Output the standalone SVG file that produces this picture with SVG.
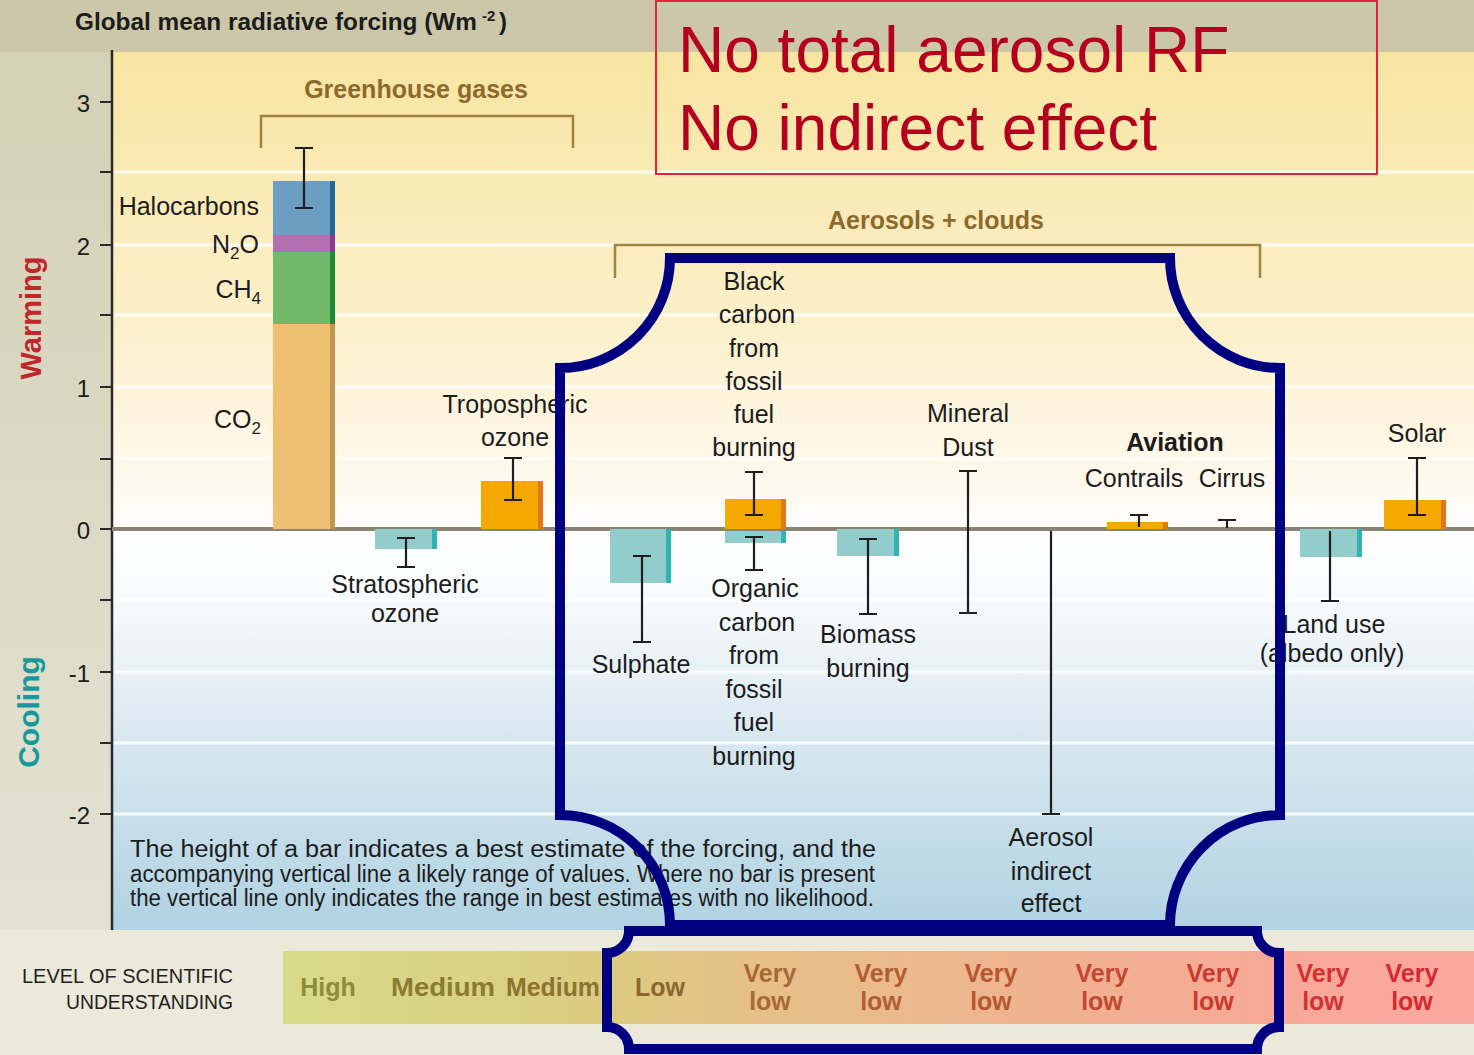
<svg xmlns="http://www.w3.org/2000/svg" width="1474" height="1055" viewBox="0 0 1474 1055">
<defs>
<linearGradient id="plotBg" x1="0" y1="52" x2="0" y2="930" gradientUnits="userSpaceOnUse">
<stop offset="0" stop-color="#f8e5a2"/>
<stop offset="0.3" stop-color="#fbefc8"/>
<stop offset="0.5" stop-color="#fffaf0"/>
<stop offset="0.545" stop-color="#ffffff"/>
<stop offset="0.62" stop-color="#f8fbfd"/>
<stop offset="0.78" stop-color="#d9e8f0"/>
<stop offset="1" stop-color="#b0d2e2"/>
</linearGradient>
<linearGradient id="leftBg" x1="0" y1="0" x2="0" y2="1">
<stop offset="0" stop-color="#d5d1b6"/>
<stop offset="1" stop-color="#e3e2d3"/>
</linearGradient>
<linearGradient id="losuBg" x1="283" y1="0" x2="1474" y2="0" gradientUnits="userSpaceOnUse">
<stop offset="0" stop-color="#d7dc8a"/>
<stop offset="0.27" stop-color="#dccb80"/>
<stop offset="0.4" stop-color="#e6c088"/>
<stop offset="0.65" stop-color="#f0b290"/>
<stop offset="0.85" stop-color="#f8a898"/>
<stop offset="1" stop-color="#fca89e"/>
</linearGradient>
<style>
.lbl{font-family:"Liberation Sans",Arial,sans-serif;font-size:25px;fill:#1c1c1c;text-anchor:middle}
.lblr{font-family:"Liberation Sans",Arial,sans-serif;font-size:25px;fill:#1c1c1c;text-anchor:end}
.tick{font-family:"Liberation Sans",Arial,sans-serif;font-size:24px;fill:#1c1c1c;text-anchor:end}
.eb{stroke:#1e1e1e;stroke-width:2.2;fill:none}
.grid{stroke:#ffffff;stroke-width:3;opacity:0.85}
.bracket{stroke:#a3823e;stroke-width:2.5;fill:none}
.grp{font-family:"Liberation Sans",Arial,sans-serif;font-size:25px;font-weight:bold;fill:#8d6a2c;text-anchor:middle}
.losu{font-family:"Liberation Sans",Arial,sans-serif;font-size:25px;font-weight:bold;text-anchor:middle}
.expl{font-family:"Liberation Sans",Arial,sans-serif;font-size:23px;fill:#1c1c1c}
.frame{fill:none;stroke:#000080;stroke-width:10}
.red{font-family:"Liberation Sans",Arial,sans-serif;font-size:64px;fill:#b4001e}
.warm{fill:#f5a800}.warmE{fill:#e07818}
.cool{fill:#92cdcc}.coolE{fill:#2fb3b3}
</style>
</defs>

<!-- background -->
<rect x="0" y="0" width="1474" height="1055" fill="#ebe9da"/>
<rect x="0" y="0" width="1474" height="52" fill="#ccc7a9"/>
<rect x="0" y="52" width="112" height="878" fill="url(#leftBg)"/>
<rect x="112" y="52" width="1362" height="878" fill="url(#plotBg)"/>

<!-- gridlines -->
<g id="gridlines">
<line class="grid" x1="114" y1="172" x2="1474" y2="172"/>
<line class="grid" x1="114" y1="245" x2="1474" y2="245"/>
<line class="grid" x1="114" y1="315" x2="1474" y2="315"/>
<line class="grid" x1="114" y1="387" x2="1474" y2="387"/>
<line class="grid" x1="114" y1="459" x2="1474" y2="459"/>
<line class="grid" x1="114" y1="600" x2="1474" y2="600"/>
<line class="grid" x1="114" y1="672" x2="1474" y2="672"/>
<line class="grid" x1="114" y1="743" x2="1474" y2="743"/>
<line class="grid" x1="114" y1="814" x2="1474" y2="814"/>
</g>

<!-- axis -->
<g id="axis">
<text x="75" y="30" font-family="Liberation Sans,Arial,sans-serif" font-size="24" font-weight="bold" fill="#1c1c1c" textLength="402" lengthAdjust="spacingAndGlyphs">Global mean radiative forcing (Wm</text>
<text x="482" y="21" font-family="Liberation Sans,Arial,sans-serif" font-size="15" font-weight="bold" fill="#1c1c1c">-2</text>
<text x="499" y="30" font-family="Liberation Sans,Arial,sans-serif" font-size="24" font-weight="bold" fill="#1c1c1c">)</text>
<line x1="112" y1="50" x2="112" y2="930" stroke="#2a2a2a" stroke-width="2.5"/>
<g stroke="#2a2a2a" stroke-width="2">
<line x1="100" y1="102" x2="112" y2="102"/>
<line x1="100" y1="172" x2="112" y2="172"/>
<line x1="100" y1="245" x2="112" y2="245"/>
<line x1="100" y1="315" x2="112" y2="315"/>
<line x1="100" y1="387" x2="112" y2="387"/>
<line x1="100" y1="459" x2="112" y2="459"/>
<line x1="100" y1="529" x2="112" y2="529"/>
<line x1="100" y1="600" x2="112" y2="600"/>
<line x1="100" y1="672" x2="112" y2="672"/>
<line x1="100" y1="743" x2="112" y2="743"/>
<line x1="100" y1="814" x2="112" y2="814"/>
</g>
<text class="tick" x="90" y="112">3</text>
<text class="tick" x="90" y="255">2</text>
<text class="tick" x="90" y="397">1</text>
<text class="tick" x="90" y="539">0</text>
<text class="tick" x="90" y="682">-1</text>
<text class="tick" x="90" y="824">-2</text>
<text transform="translate(41,318) rotate(-90)" text-anchor="middle" font-family="Liberation Sans,Arial,sans-serif" font-size="29" font-weight="bold" fill="#c0272d">Warming</text>
<text transform="translate(39,712) rotate(-90)" text-anchor="middle" font-family="Liberation Sans,Arial,sans-serif" font-size="30" font-weight="bold" fill="#18999a">Cooling</text>
<line x1="112" y1="529" x2="1474" y2="529" stroke="#8a8474" stroke-width="4"/>
</g>

<!-- group brackets -->
<g id="connectors">
<path class="bracket" d="M261 148 V116 H573 V148"/>
<path class="bracket" d="M615 278 V245 H1260 V278"/>
</g>
<g id="group-ghg"><text class="grp" x="416" y="98">Greenhouse gases</text></g>
<g id="group-aerosols"><text class="grp" x="936" y="229">Aerosols + clouds</text></g>

<!-- Long-lived GHG stack -->
<g id="node-ghg">
<rect x="273" y="324" width="57" height="205" fill="#efc071"/>
<rect x="330" y="324" width="5" height="205" fill="#c29452"/>
<rect x="273" y="252" width="57" height="72" fill="#72b96a"/>
<rect x="330" y="252" width="5" height="72" fill="#1f8a3a"/>
<rect x="273" y="235" width="57" height="17" fill="#b36fb0"/>
<rect x="330" y="235" width="5" height="17" fill="#8a3a8a"/>
<rect x="273" y="181" width="57" height="54" fill="#6c9ec2"/>
<rect x="330" y="181" width="5" height="54" fill="#24689a"/>
<path class="eb" d="M304 148 V208 M295 148 H313 M295 208 H313"/>
<text class="lblr" x="259" y="215">Halocarbons</text>
<text class="lblr" x="259" y="253">N<tspan font-size="17" dy="6">2</tspan><tspan dy="-6">O</tspan></text>
<text class="lblr" x="261" y="298">CH<tspan font-size="17" dy="6">4</tspan></text>
<text class="lblr" x="261" y="428">CO<tspan font-size="17" dy="6">2</tspan></text>
</g>

<g id="node-strat-ozone">
<rect class="cool" x="375" y="529" width="57" height="20"/>
<rect class="coolE" x="432" y="529" width="5" height="20"/>
<path class="eb" d="M406 538 V567 M397 538 H415 M397 567 H415"/>
<text class="lbl" x="405" y="593">Stratospheric</text>
<text class="lbl" x="405" y="622">ozone</text>
</g>

<g id="node-trop-ozone">
<rect class="warm" x="481" y="481" width="57" height="48"/>
<rect class="warmE" x="538" y="481" width="5" height="48"/>
<path class="eb" d="M513 458 V500 M504 458 H522 M504 500 H522"/>
<text class="lbl" x="515" y="413">Tropospheric</text>
<text class="lbl" x="515" y="446">ozone</text>
</g>

<g id="node-sulphate">
<rect class="cool" x="610" y="529" width="56" height="54"/>
<rect class="coolE" x="666" y="529" width="5" height="54"/>
<path class="eb" d="M642 556 V642 M633 556 H651 M633 642 H651"/>
<text class="lbl" x="641" y="673">Sulphate</text>
</g>

<g id="node-black-carbon">
<rect class="warm" x="725" y="499" width="56" height="30"/>
<rect class="warmE" x="781" y="499" width="5" height="30"/>
<path class="eb" d="M754 472 V515 M745 472 H763 M745 515 H763"/>
<text class="lbl" x="754" y="290">Black</text>
<text class="lbl" x="757" y="323">carbon</text>
<text class="lbl" x="754" y="357">from</text>
<text class="lbl" x="754" y="390">fossil</text>
<text class="lbl" x="754" y="423">fuel</text>
<text class="lbl" x="754" y="456">burning</text>
</g>

<g id="node-organic-carbon">
<rect class="cool" x="725" y="531" width="56" height="12"/>
<rect class="coolE" x="781" y="531" width="5" height="12"/>
<path class="eb" d="M754 537 V570 M745 537 H763 M745 570 H763"/>
<text class="lbl" x="755" y="597">Organic</text>
<text class="lbl" x="757" y="631">carbon</text>
<text class="lbl" x="754" y="664">from</text>
<text class="lbl" x="754" y="698">fossil</text>
<text class="lbl" x="754" y="731">fuel</text>
<text class="lbl" x="754" y="765">burning</text>
</g>

<g id="node-biomass">
<rect class="cool" x="837" y="529" width="57" height="27"/>
<rect class="coolE" x="894" y="529" width="5" height="27"/>
<path class="eb" d="M868 539 V614 M859 539 H877 M859 614 H877"/>
<text class="lbl" x="868" y="643">Biomass</text>
<text class="lbl" x="868" y="677">burning</text>
</g>

<g id="node-mineral-dust">
<path class="eb" d="M968 471 V613 M959 471 H977 M959 613 H977"/>
<text class="lbl" x="968" y="422">Mineral</text>
<text class="lbl" x="968" y="456">Dust</text>
</g>

<g id="node-aerosol-indirect">
<path class="eb" d="M1051 531 V814 M1042 814 H1060"/>
<text class="lbl" x="1051" y="846">Aerosol</text>
<text class="lbl" x="1051" y="880">indirect</text>
<text class="lbl" x="1051" y="912">effect</text>
</g>

<g id="node-aviation">
<text class="lbl" x="1175" y="451" font-weight="bold">Aviation</text>
<rect class="warm" x="1107" y="522" width="56" height="7"/>
<rect class="warmE" x="1163" y="522" width="5" height="7"/>
<path class="eb" d="M1139 515 V527 M1130 515 H1148"/>
<text class="lbl" x="1134" y="487">Contrails</text>
<path class="eb" d="M1227 520 V528 M1218 520 H1236"/>
<text class="lbl" x="1232" y="487">Cirrus</text>
</g>

<g id="node-land-use">
<rect class="cool" x="1300" y="529" width="57" height="28"/>
<rect class="coolE" x="1357" y="529" width="5" height="28"/>
<path class="eb" d="M1330 531 V601 M1321 601 H1339"/>
<text class="lbl" x="1334" y="633">Land use</text>
<text class="lbl" x="1332" y="662">(albedo only)</text>
</g>

<g id="node-solar">
<rect class="warm" x="1384" y="500" width="57" height="29"/>
<rect class="warmE" x="1441" y="500" width="5" height="29"/>
<path class="eb" d="M1417 458 V515 M1408 458 H1426 M1408 515 H1426"/>
<text class="lbl" x="1417" y="442">Solar</text>
</g>

<g id="explanation">
<text class="expl" x="130" y="857" textLength="746" lengthAdjust="spacingAndGlyphs">The height of a bar indicates a best estimate of the forcing, and the</text>
<text class="expl" x="130" y="882" textLength="745" lengthAdjust="spacingAndGlyphs">accompanying vertical line a likely range of values.  Where no bar is present</text>
<text class="expl" x="130" y="906" textLength="744" lengthAdjust="spacingAndGlyphs">the vertical line only indicates the range in best estimates with no likelihood.</text>
</g>

<!-- LOSU -->
<g id="losu">
<rect x="283" y="951" width="1191" height="73" fill="url(#losuBg)"/>
<text x="233" y="983" text-anchor="end" font-family="Liberation Sans,Arial,sans-serif" font-size="20" fill="#222" textLength="211" lengthAdjust="spacingAndGlyphs">LEVEL  OF SCIENTIFIC</text>
<text x="233" y="1009" text-anchor="end" font-family="Liberation Sans,Arial,sans-serif" font-size="20" fill="#222" textLength="167" lengthAdjust="spacingAndGlyphs">UNDERSTANDING</text>
<text class="losu" x="328" y="996" fill="#8c8c3a">High</text>
<text class="losu" x="443" y="996" fill="#8a7c32" textLength="104" lengthAdjust="spacingAndGlyphs">Medium</text>
<text class="losu" x="553" y="996" fill="#8a7430" textLength="94" lengthAdjust="spacingAndGlyphs">Medium</text>
<text class="losu" x="660" y="996" fill="#8c6630">Low</text>
<g>
<text class="losu" x="770" y="982" fill="#a86a32">Very</text><text class="losu" x="770" y="1010" fill="#a86a32">low</text>
<text class="losu" x="881" y="982" fill="#b05e32">Very</text><text class="losu" x="881" y="1010" fill="#b05e32">low</text>
<text class="losu" x="991" y="982" fill="#b8562f">Very</text><text class="losu" x="991" y="1010" fill="#b8562f">low</text>
<text class="losu" x="1102" y="982" fill="#c24830">Very</text><text class="losu" x="1102" y="1010" fill="#c24830">low</text>
<text class="losu" x="1213" y="982" fill="#ca3c30">Very</text><text class="losu" x="1213" y="1010" fill="#ca3c30">low</text>
<text class="losu" x="1323" y="982" fill="#d23232">Very</text><text class="losu" x="1323" y="1010" fill="#d23232">low</text>
<text class="losu" x="1412" y="982" fill="#d42a32">Very</text><text class="losu" x="1412" y="1010" fill="#d42a32">low</text>
</g>
</g>

<!-- annotation -->
<g id="note">
<rect x="656" y="1" width="721" height="173" fill="none" stroke="#e8203c" stroke-width="2"/>
<text class="red" x="678" y="72">No total aerosol RF</text>
<text class="red" x="678" y="150">No indirect effect</text>
</g>

<g id="highlight-frames">
<path class="frame" d="M670 258 H1170 A110 110 0 0 0 1280 368 V815 A110 110 0 0 0 1170 925 H670 A110 110 0 0 0 560 815 V368 A110 110 0 0 0 670 258 Z"/>
<path class="frame" stroke-width="9" d="M629 931 H1257 A22 22 0 0 0 1279 953 V1027 A22 22 0 0 0 1257 1049 H629 A22 22 0 0 0 607 1027 V953 A22 22 0 0 0 629 931 Z"/>
</g>
</svg>
